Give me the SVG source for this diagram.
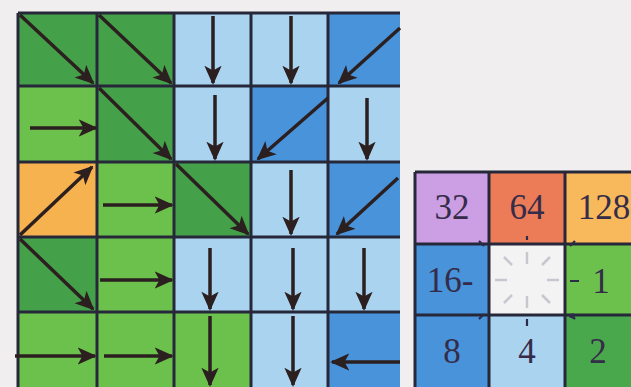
<svg xmlns="http://www.w3.org/2000/svg" width="631" height="387" viewBox="0 0 631 387">
<defs>
<marker id="ah" viewBox="0 0 10 10" refX="9" refY="5" markerWidth="5.5" markerHeight="5.5" markerUnits="strokeWidth" orient="auto">
<path d="M0,0.5 L10,5 L0,9.5 L2.5,5 z" fill="#2b1f1f"/>
</marker>
<marker id="sm" viewBox="0 0 10 10" refX="9" refY="5" markerWidth="3" markerHeight="3" markerUnits="strokeWidth" orient="auto">
<path d="M0,0 L10,5 L0,10 z" fill="#2b2b4a"/>
</marker>
</defs>
<style>
.dg{fill:#45a04a}.lg{fill:#6cc04c}.lb{fill:#a9d3ef}.bl{fill:#4893da}.or{fill:#f6b24e}
.pu{fill:#cc9fe4}.rd{fill:#ec7c58}.yo{fill:#f8b85c}.wh{fill:#f4f3f4}.g2{fill:#4aa84c}
.a{stroke:#2b1f1f;stroke-width:3.5;fill:none;marker-end:url(#ah)}
.grid{stroke:#26283a;stroke-width:3;fill:none}
.num{font-family:"Liberation Serif",serif;font-size:35px;fill:#342c48;text-anchor:middle}
.tick{stroke:#c8c6ce;stroke-width:2.5}
.m{stroke:#2b2b4a;stroke-width:2.2;marker-end:url(#sm)}
</style>
<rect width="631" height="387" fill="#f0eeee"/>
<g id="flowgrid">
<g id="c00"><rect class="dg" x="18" y="13" width="79" height="73"/></g>
<g id="c01"><rect class="dg" x="97" y="13" width="77" height="73"/></g>
<g id="c02"><rect class="lb" x="174" y="13" width="77" height="73"/></g>
<g id="c03"><rect class="lb" x="251" y="13" width="77" height="73"/></g>
<g id="c04"><rect class="bl" x="328" y="13" width="72" height="73"/></g>
<g id="c10"><rect class="lg" x="18" y="86" width="79" height="76"/></g>
<g id="c11"><rect class="dg" x="97" y="86" width="77" height="76"/></g>
<g id="c12"><rect class="lb" x="174" y="86" width="77" height="76"/></g>
<g id="c13"><rect class="bl" x="251" y="86" width="77" height="76"/></g>
<g id="c14"><rect class="lb" x="328" y="86" width="72" height="76"/></g>
<g id="c20"><rect class="or" x="18" y="162" width="79" height="75"/></g>
<g id="c21"><rect class="lg" x="97" y="162" width="77" height="75"/></g>
<g id="c22"><rect class="dg" x="174" y="162" width="77" height="75"/></g>
<g id="c23"><rect class="lb" x="251" y="162" width="77" height="75"/></g>
<g id="c24"><rect class="bl" x="328" y="162" width="72" height="75"/></g>
<g id="c30"><rect class="dg" x="18" y="237" width="79" height="75"/></g>
<g id="c31"><rect class="lg" x="97" y="237" width="77" height="75"/></g>
<g id="c32"><rect class="lb" x="174" y="237" width="77" height="75"/></g>
<g id="c33"><rect class="lb" x="251" y="237" width="77" height="75"/></g>
<g id="c34"><rect class="lb" x="328" y="237" width="72" height="75"/></g>
<g id="c40"><rect class="lg" x="18" y="312" width="79" height="75"/></g>
<g id="c41"><rect class="lg" x="97" y="312" width="77" height="75"/></g>
<g id="c42"><rect class="lg" x="174" y="312" width="77" height="75"/></g>
<g id="c43"><rect class="lb" x="251" y="312" width="77" height="75"/></g>
<g id="c44"><rect class="bl" x="328" y="312" width="72" height="75"/></g>
<path class="grid" d="M18,13V387M97,13V387M174,13V387M251,13V387M328,13V387M18,13H400M18,86H400M18,162H400M18,237H400M18,312H400"/>
</g>
<g id="connectors">
<path class="a" d="M20,15L93,83"/>
<path class="a" d="M99,15L171,83"/>
<path class="a" d="M213,16V83"/>
<path class="a" d="M291,16V83"/>
<path class="a" d="M400,28L339,83"/>
<path class="a" d="M30,128H96"/>
<path class="a" d="M99,88L171,159"/>
<path class="a" d="M215,95V159"/>
<path class="a" d="M328,98L258,159"/>
<path class="a" d="M367,98V159"/>
<path class="a" d="M20,235L92,167"/>
<path class="a" d="M103,205H172"/>
<path class="a" d="M176,164L248,234"/>
<path class="a" d="M291,170V234"/>
<path class="a" d="M398,178L337,234"/>
<path class="a" d="M20,239L93,309"/>
<path class="a" d="M100,280H172"/>
<path class="a" d="M210,248V309"/>
<path class="a" d="M293,248V309"/>
<path class="a" d="M364,248V309"/>
<path class="a" d="M15,356H95"/>
<path class="a" d="M104,356H172"/>
<path class="a" d="M210,316V385"/>
<path class="a" d="M293,316V385"/>
<path class="a" d="M400,362H332"/>
</g>
<g id="codegrid">
<g id="k32"><rect class="pu" x="415" y="172" width="74" height="72"/><text class="num" x="452" y="219">32</text></g>
<g id="k64"><rect class="rd" x="489" y="172" width="76" height="72"/><text class="num" x="527" y="219">64</text></g>
<g id="k128"><rect class="yo" x="565" y="172" width="66" height="72"/><text class="num" x="604" y="219">128</text></g>
<g id="k16"><rect class="bl" x="415" y="244" width="74" height="71"/><text class="num" x="450" y="292">16-</text></g>
<g id="kc"><rect class="wh" x="489" y="244" width="76" height="71"/>
<path class="tick" d="M527,252V264M527,296V308M495,280H507M547,280H559M504,257L512,265M550,303L542,295M550,257L542,265M504,303L512,295"/></g>
<g id="k1"><rect class="lg" x="565" y="244" width="66" height="71"/><text class="num" x="601" y="293">1</text></g>
<g id="k8"><rect class="bl" x="415" y="315" width="74" height="72"/><text class="num" x="452" y="363">8</text></g>
<g id="k4"><rect class="lb" x="489" y="315" width="76" height="72"/><text class="num" x="527" y="363">4</text></g>
<g id="k2"><rect class="g2" x="565" y="315" width="66" height="72"/><text class="num" x="598" y="363">2</text></g>
<path class="grid" d="M415,172V387M489,172V387M565,172V387M415,172H631M415,244H631M415,315H631"/>
<path class="m" d="M527,240V236M527,319V326M570,281H579M484,246L479,241M570,246L575,241M484,314L479,319M570,314L575,319"/>
</g>
</svg>
